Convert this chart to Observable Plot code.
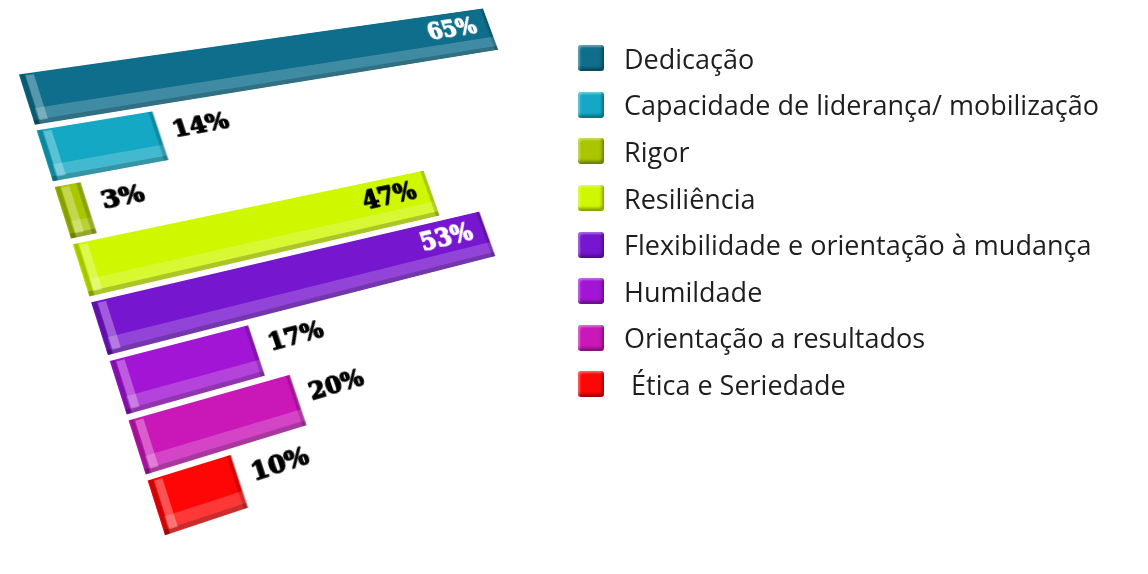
<!DOCTYPE html>
<html><head><meta charset="utf-8">
<script src="https://cdn.jsdelivr.net/npm/d3@7"></script>
<script src="https://cdn.jsdelivr.net/npm/@observablehq/plot@0.6"></script>
<style>
body{margin:0;background:#fff;width:1148px;height:574px;overflow:hidden;position:relative;font-family:"Open Sans",sans-serif}
#chart{position:absolute;left:0;top:0;}
#chart svg{transform-origin:0 0;overflow:visible;display:block;max-width:none}
#legend{position:absolute;left:578px;top:35px}
.item{display:flex;align-items:center;height:46.6px}
.sw{width:26px;height:26px;border-radius:3px;margin-right:20px;box-sizing:border-box;box-shadow:inset -2px -3px 3px rgba(0,0,0,.35), inset 2px 2px 2px rgba(255,255,255,.35)}
.lab{font-size:27px;color:#1e1e1e;line-height:1}
</style></head><body>
<div id="chart"></div><div id="legend"></div>
<script>
// ---- data ----
const categories = ["Dedicação","Capacidade de liderança/ mobilização","Rigor","Resiliência","Flexibilidade e orientação à mudança","Humildade","Orientação a resultados"," Ética e Seriedade"];
const values = [65, 14, 3, 47, 53, 17, 20, 10];
const palette = ["#0e6e8c","#15a8c5","#a9c600","#cff700","#7716cf","#a215d4","#c917b8","#fe0606"];
const insideWhite = ["Dedicação","Flexibilidade e orientação à mudança"];
const insideBlack = ["Resiliência"];

const rows = categories.map((c, i) => ({cat: c, value: values[i], label: values[i] + "%"}));

const W = 500, H = 480;
const font = {fontFamily: "DejaVu Serif Condensed", fontWeight: "bold", fontSize: 25, strokeWidth: 1.3};
const fontIn = {...font, fontSize: 27};

const chart = Plot.plot({
  width: W, height: H,
  marginTop: 0, marginBottom: 0, marginLeft: 0, marginRight: 0,
  x: {domain: [0, 65], range: [0, 470], axis: null},
  y: {domain: categories, range: [0, H], paddingInner: 0.1, paddingOuter: 0, axis: null},
  color: {domain: categories, range: palette},
  marks: [
    Plot.barX(rows, {x: "value", y: "cat", fill: "cat"}),
    Plot.barX(rows, {x: "value", y: "cat", fill: "white", fillOpacity: 0.2, insetTop: 37, insetLeft: 4}),
    Plot.barX(rows, {x: "value", y: "cat", fill: "black", fillOpacity: 0.2, insetTop: 49}),
    Plot.tickX(rows, {x: () => 0, y: "cat", dx: 2, stroke: "black", strokeOpacity: 0.2, strokeWidth: 4}),
    Plot.tickX(rows, {x: () => 0, y: "cat", dx: 8, stroke: "white", strokeOpacity: 0.3, strokeWidth: 7, insetTop: 2, insetBottom: 4}),
    Plot.tickX(rows, {x: "value", y: "cat", dx: -2, stroke: "black", strokeOpacity: 0.18, strokeWidth: 4}),
    Plot.text(rows, {filter: d => insideWhite.includes(d.cat), x: "value", y: "cat", text: "label", textAnchor: "end", dx: -16, dy: -7, fill: "white", stroke: "white", ...fontIn}),
    Plot.text(rows, {filter: d => insideBlack.includes(d.cat), x: "value", y: "cat", text: "label", textAnchor: "end", dx: -16, dy: -7, fill: "black", stroke: "black", ...fontIn}),
    Plot.text(rows, {filter: d => !insideWhite.includes(d.cat) && !insideBlack.includes(d.cat), x: "value", y: "cat", text: "label", textAnchor: "start", dx: 12, dy: -5, fill: "black", stroke: "black", ...font})
  ]
});
document.getElementById("chart").appendChild(chart);

// ---- perspective view: least-squares homography from plot frame to picture frame ----
// picture corners of the bar ends [TL, TR, BL, BR] per category (null = not used)
const viewCorners = [
  [[17, 75], [490, 7], [38, 125], [492, 50]],
  [[35, 132], [153, 113], [50, 182], [163, 160]],
  null,
  [[75, 242], [425, 172], [93, 297], [438, 212]],
  [[92, 300], [478, 213], [107, 353], [492, 257]],
  [[110, 360], [253, 327], [125, 413], [265, 373]],
  [[128, 422], [293, 377], [143, 473], [310, 425]],
  [[148, 482], [230, 458], [163, 535], [247, 508]]
];
const xs = chart.scale("x"), ys = chart.scale("y");
const src = [], dst = [];
categories.forEach((c, i) => {
  if (!viewCorners[i]) return;
  const y0 = ys.apply(c), y1 = y0 + ys.bandwidth, x0 = xs.apply(0), x1 = xs.apply(values[i]);
  [[x0, y0], [x1, y0], [x0, y1], [x1, y1]].forEach((p, k) => { src.push(p); dst.push(viewCorners[i][k]); });
});
function solve(A, b) {
  const n = b.length;
  for (let i = 0; i < n; i++) {
    let p = i;
    for (let r = i + 1; r < n; r++) if (Math.abs(A[r][i]) > Math.abs(A[p][i])) p = r;
    [A[i], A[p]] = [A[p], A[i]]; [b[i], b[p]] = [b[p], b[i]];
    for (let r = i + 1; r < n; r++) {
      const f = A[r][i] / A[i][i];
      for (let c = i; c < n; c++) A[r][c] -= f * A[i][c];
      b[r] -= f * b[i];
    }
  }
  const x = new Array(n).fill(0);
  for (let i = n - 1; i >= 0; i--) {
    let s = b[i];
    for (let c = i + 1; c < n; c++) s -= A[i][c] * x[c];
    x[i] = s / A[i][i];
  }
  return x;
}
const M = [], rhs = [];
src.forEach(([x, y], i) => {
  const [u, v] = dst[i];
  M.push([x, y, 1, 0, 0, 0, -u * x, -u * y]); rhs.push(u);
  M.push([0, 0, 0, x, y, 1, -v * x, -v * y]); rhs.push(v);
});
const AtA = Array.from({length: 8}, (_, r) => Array.from({length: 8}, (_, c) => d3.sum(M, row => row[r] * row[c])));
const Atb = Array.from({length: 8}, (_, r) => d3.sum(M, (row, k) => row[r] * rhs[k]));
const h = solve(AtA, Atb);
chart.style.transform = `matrix3d(${h[0]},${h[3]},0,${h[6]},${h[1]},${h[4]},0,${h[7]},0,0,1,0,${h[2]},${h[5]},0,1)`;

// ---- legend ----
const legend = document.getElementById("legend");
categories.forEach((c, i) => {
  const it = document.createElement("div"); it.className = "item";
  const sw = document.createElement("div"); sw.className = "sw"; sw.style.background = palette[i];
  const lb = document.createElement("div"); lb.className = "lab"; lb.textContent = c; lb.style.whiteSpace = "pre";
  it.appendChild(sw); it.appendChild(lb); legend.appendChild(it);
});
</script>
</body></html>
